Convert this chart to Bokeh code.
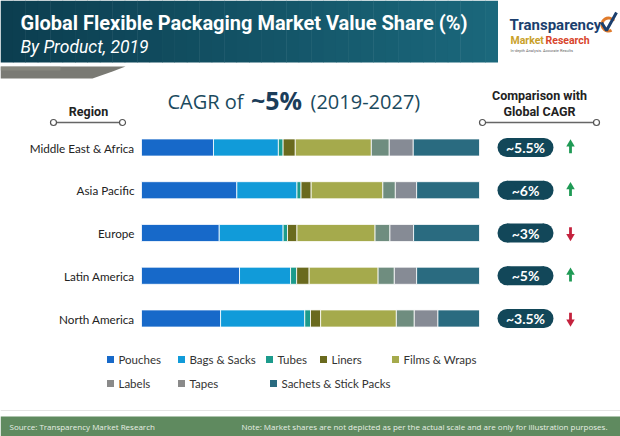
from bokeh.plotting import figure
from bokeh.models import Range1d, ColumnDataSource
from bokeh.core.properties import value
from bokeh.embed import file_html
from bokeh.resources import INLINE

# ---------------- data ----------------
regions = ["Middle East & Africa", "Asia Pacific", "Europe", "Latin America", "North America"]
products = ["Pouches", "Bags & Sacks", "Tubes", "Liners", "Films & Wraps",
            "Labels", "Tapes", "Sachets & Stick Packs"]
product_colors = ["#1769c9", "#119bd9", "#1c9b8c", "#6a6a1e", "#a5aa4c",
                  "#6f8d7f", "#868b95", "#2a6b80"]
pouches = [21.3, 28.2, 23.0, 29.0, 23.4]
bags_sacks = [19.2, 17.8, 18.9, 15.1, 24.9]
tubes = [1.4, 1.2, 1.3, 1.8, 1.7]
liners = [3.6, 3.0, 2.8, 3.7, 3.0]
films_wraps = [22.5, 21.2, 23.1, 20.4, 22.4]
labels = [5.3, 3.7, 4.4, 4.8, 5.3]
tapes = [7.1, 6.3, 7.0, 6.6, 7.0]
sachets = [19.6, 18.6, 19.5, 18.6, 12.3]
cagr_labels = ["~5.5%", "~6%", "~3%", "~5%", "~3.5%"]
cagr_trend = ["up", "up", "down", "up", "down"]
global_cagr = "~5%"

FONT = "Lato"
W, H = 620, 436  # design coordinates (pixels)

p = figure(width=W, height=H, x_range=Range1d(0, W), y_range=Range1d(H, 0),
           output_backend="svg", toolbar_location=None, min_border=0,
           x_axis_location=None, y_axis_location=None)
p.grid.visible = False
p.outline_line_color = None
p.background_fill_color = "white"
p.border_fill_color = "white"

# bar region: share 0..100 maps to x 141..479 ; rows 0..4 map to y 147..318
px_per_share = (479 - 141) / 100.0
px_per_row = (318 - 147) / 4.0
p.extra_x_ranges = {"share": Range1d(-141 / px_per_share, (W - 141) / px_per_share)}
p.extra_y_ranges = {"row": Range1d(4 + (H - 318) / px_per_row, -147 / px_per_row)}

# ---------------- header ----------------
n_strips = 40
c0 = (0x0c, 0x3e, 0x50)
c1 = (0x1b, 0x68, 0x7c)
hx = 497
strip_l, strip_r, strip_c = [], [], []
for i in range(n_strips):
    t = i / (n_strips - 1)
    c = tuple(int(a + (b - a) * t) for a, b in zip(c0, c1))
    strip_l.append(hx * i / n_strips)
    strip_r.append(hx * (i + 1) / n_strips + 0.5)
    strip_c.append("#%02x%02x%02x" % c)
p.quad(left=strip_l, right=strip_r, top=0, bottom=62, color=strip_c, line_color=None)

# grey swoosh
p.patch(x=[0, 125, 112, 92, 0], y=[66, 66, 71, 78, 78], color="#7a7a74", line_color=None)
p.patch(x=[0, 60, 60, 0], y=[66, 66, 70, 70], color="#8f8f86", line_color=None, alpha=0.6)

p.text(x=[20], y=[22], text=["Global Flexible Packaging Market Value Share (%)"],
       text_color="white", text_font=value("Roboto"), text_font_style="bold",
       text_font_size="20px", text_baseline="middle")
p.text(x=[20], y=[46], text=["By Product, 2019"], text_color="white",
       text_font=value("Roboto"), text_font_style="italic", text_font_size="17.5px",
       text_baseline="middle")

# logo
p.text(x=[509], y=[24], text=["Transparency"], text_color="#1b3f6e",
       text_font=value("Roboto"), text_font_style="bold", text_font_size="15px",
       text_baseline="middle")
p.text(x=[510], y=[40], text=["Market"], text_color="#c9a12a",
       text_font=value("Roboto"), text_font_style="bold", text_font_size="10.5px",
       text_baseline="middle")
p.text(x=[545], y=[40], text=["Research"], text_color="#d8452b",
       text_font=value("Roboto"), text_font_style="bold", text_font_size="10.5px",
       text_baseline="middle")
p.text(x=[510], y=[50], text=["In-depth Analysis. Accurate Results"], text_color="#666666",
       text_font=value("Roboto"), text_font_size="4px", text_baseline="middle")
p.annular_wedge(x=[608], y=[24], inner_radius=5, outer_radius=8, start_angle=0.6,
                end_angle=5.2, color="#e07a2a", line_color=None)
p.line(x=[601, 606, 616], y=[22, 30, 12], line_color="#1b3f6e", line_width=3)

# ---------------- headings ----------------
p.text(x=[243], y=[101], text=["CAGR of"], text_color="#1b4a5e",
       text_font=value("Open Sans"), text_font_size="20px", text_align="right",
       text_baseline="middle")
p.text(x=[276], y=[99], text=[global_cagr], text_color="#1b3d5a",
       text_font=value("Open Sans"), text_font_style="bold", text_font_size="25px",
       text_align="center", text_baseline="middle")
p.text(x=[310], y=[101], text=["(2019-2027)"], text_color="#1b4a5e",
       text_font=value("Open Sans"), text_font_size="20px", text_align="left",
       text_baseline="middle")

p.text(x=[88], y=[111], text=["Region"], text_color="#222222", text_font=value("Roboto"),
       text_font_style="bold", text_font_size="12.5px", text_align="center", text_baseline="middle")
p.text(x=[539, 539], y=[95, 111], text=["Comparison with", "Global CAGR"], text_color="#222222",
       text_font=value("Roboto"), text_font_style="bold", text_font_size="12.5px",
       text_align="center", text_baseline="middle")
for (a, b) in [(53, 122), (482, 596)]:
    p.line(x=[a, b], y=[122, 122], line_color="#666666", line_width=1.5)
    p.scatter(x=[a, b], y=[122, 122], marker="circle", size=6, fill_color="white",
              line_color="#555555", line_width=1.2)

# ---------------- stacked bars ----------------
src = ColumnDataSource(dict(
    row=list(range(len(regions))), region=regions, cagr=cagr_labels,
    **dict(zip(products, [pouches, bags_sacks, tubes, liners, films_wraps, labels, tapes, sachets]))))
p.hbar_stack(products, y="row", height=0.40, color=product_colors, source=src,
             x_range_name="share", y_range_name="row", line_color="white", line_width=0.8)

p.text(x=134, y="row", text="region", source=src, y_range_name="row",
       text_color="#222222", text_font=value(FONT), text_font_size="11.7px",
       text_align="right", text_baseline="middle")

# CAGR pills
pill_w, pill_h = 56, 19
p.rect(x=525, y="row", width=pill_w - pill_h, height=pill_h / px_per_row, source=src,
       y_range_name="row", color="#124759", line_color=None)
p.scatter(x=525 - (pill_w - pill_h) / 2, y="row", size=pill_h, source=src,
          y_range_name="row", color="#124759", line_color=None)
p.scatter(x=525 + (pill_w - pill_h) / 2, y="row", size=pill_h, source=src,
          y_range_name="row", color="#124759", line_color=None)
p.text(x=525, y="row", text="cagr", source=src, y_range_name="row", text_color="white",
       text_font=value(FONT), text_font_style="bold", text_font_size="14px",
       text_align="center", text_baseline="middle")

# trend arrows
up_rows = [i for i, t in enumerate(cagr_trend) if t == "up"]
dn_rows = [i for i, t in enumerate(cagr_trend) if t == "down"]
p.rect(x=570, y=[r + 0.05 for r in up_rows], width=2.8, height=0.17, y_range_name="row",
       color="#1f9a55", line_color=None)
p.scatter(x=570, y=[r - 0.08 for r in up_rows], marker="triangle", size=8.5,
          y_range_name="row", color="#1f9a55", line_color=None)
p.rect(x=570, y=[r - 0.05 for r in dn_rows], width=2.8, height=0.17, y_range_name="row",
       color="#c4223d", line_color=None)
p.scatter(x=570, y=[r + 0.08 for r in dn_rows], marker="inverted_triangle", size=8.5,
          y_range_name="row", color="#c4223d", line_color=None)

# ---------------- legend ----------------
legend_x = [110, 181, 269, 323, 395, 110, 181, 273]
legend_y = [359, 359, 359, 359, 359, 383, 383, 383]
legend_colors = ["#1769c9", "#119bd9", "#1c9b8c", "#6a6a1e", "#a5aa4c",
                 "#8a8a8a", "#8a8a8a", "#2a6b80"]
p.scatter(x=legend_x, y=legend_y, marker="square", size=7, color=legend_colors, line_color=None)
p.text(x=[x + 8 for x in legend_x], y=legend_y, text=products, text_color="#333333",
       text_font=value(FONT), text_font_size="11.5px", text_baseline="middle")

# ---------------- footer ----------------
p.line(x=[0, W], y=[410, 410], line_color="#e4e4e4", line_width=1)
p.quad(left=0, right=W, top=416, bottom=H, color="#5f8a5f", line_color=None)
p.text(x=[9], y=[426], text=["Source: Transparency Market Research"], text_color="#e8efe6",
       text_font=value("Open Sans"), text_font_size="8px", text_baseline="middle")
p.text(x=[607], y=[426],
       text=["Note: Market shares are not depicted as per the actual scale and are only for illustration purposes."],
       text_color="#e8efe6", text_font=value("Open Sans"), text_font_size="8px",
       text_align="right", text_baseline="middle")

open("out.html", "w").write(file_html(p, INLINE))
